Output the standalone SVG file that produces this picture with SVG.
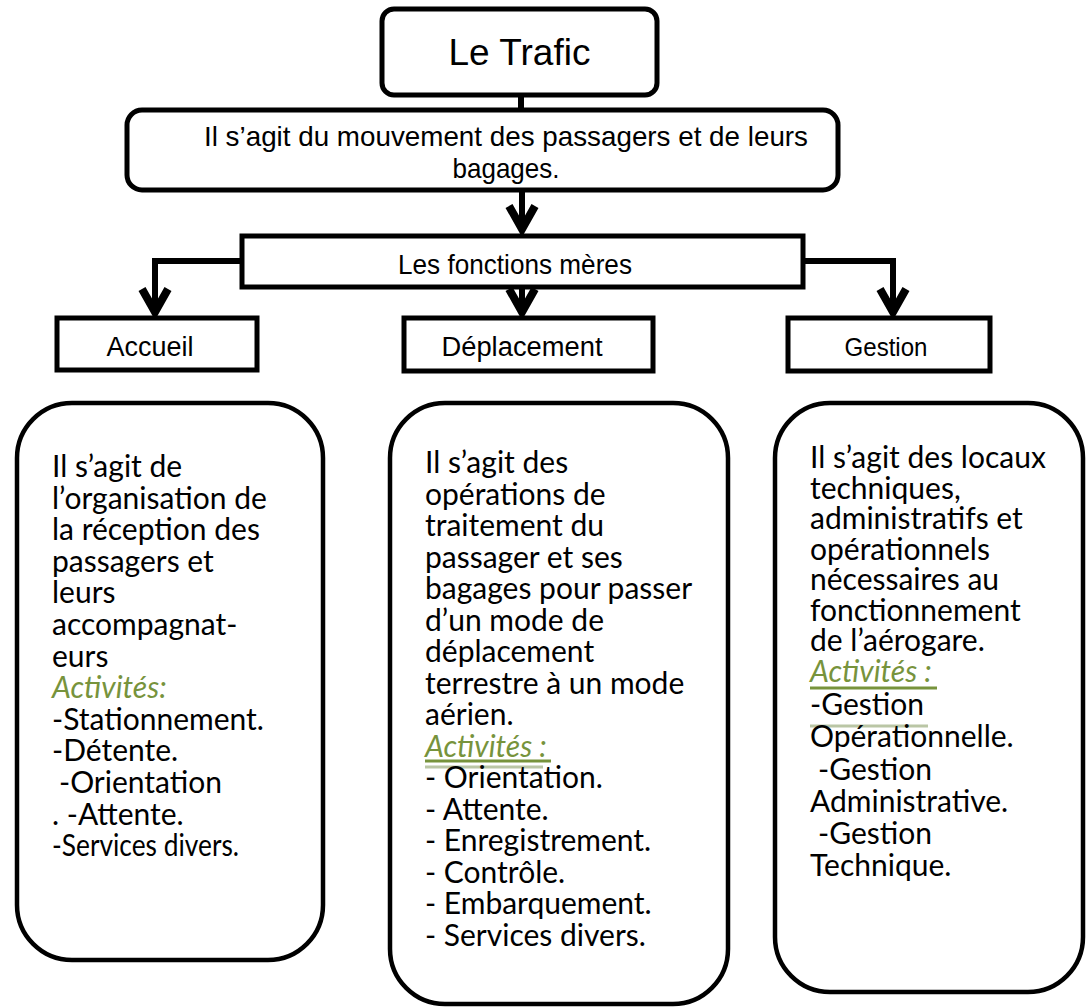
<svg xmlns="http://www.w3.org/2000/svg" width="1086" height="1008" viewBox="0 0 1086 1008">
<style>
.box{fill:#fff;stroke:#000;stroke-width:5}
.big{fill:#fff;stroke:#000;stroke-width:4.5}
.lbl{font-family:"Liberation Sans",Arial,sans-serif;fill:#000;text-anchor:middle}
.body{font-family:Lato,"Open Sans",sans-serif;font-size:30px;fill:#000}
.act{font-style:italic;fill:#77933C}
.con{fill:none;stroke:#000;stroke-width:6;stroke-linejoin:miter}
.ul{stroke:#77933C;stroke-width:3}
.ul2{stroke:#a9b98f;stroke-width:3;opacity:0.8}
</style>
<defs>
<marker id="arr" markerUnits="userSpaceOnUse" markerWidth="40" markerHeight="40" viewBox="-34 -20 40 40" refX="0" refY="0" orient="auto" overflow="visible">
<path d="M -26 -13 L -3 0 L -26 13" fill="none" stroke="#000" stroke-width="8" stroke-linejoin="miter" stroke-miterlimit="10"/>
</marker>
</defs>
<rect width="1086" height="1008" fill="#fff"/>
<g id="connectors">
<path class="con" d="M521 95 V110"/>
<path class="con" d="M522 190 V232" marker-end="url(#arr)"/>
<path class="con" d="M242 261 H155 V315" marker-end="url(#arr)"/>
<path class="con" d="M803 261 H893 V315" marker-end="url(#arr)"/>
<path class="con" d="M522 287 V315" marker-end="url(#arr)"/>
</g>
<g id="node-trafic">
<rect class="box" x="382" y="9" width="275" height="86" rx="12"/>
<text class="lbl" x="519.5" y="65" font-size="37">Le Trafic</text>
</g>
<g id="node-mouvement">
<rect class="box" x="127" y="110" width="711" height="80" rx="15"/>
<text class="lbl" x="506" y="146" font-size="28" textLength="604" lengthAdjust="spacingAndGlyphs">Il s’agit du mouvement des passagers et de leurs</text>
<text class="lbl" x="506" y="178" font-size="28" textLength="107" lengthAdjust="spacingAndGlyphs">bagages.</text>
</g>
<g id="node-fonctions">
<rect class="box" x="242" y="236" width="561" height="51"/>
<text class="lbl" x="515" y="274" font-size="28" textLength="234" lengthAdjust="spacingAndGlyphs">Les fonctions mères</text>
</g>
<g id="node-accueil">
<rect class="box" x="57" y="318" width="200" height="52"/>
<text class="lbl" x="150" y="356" font-size="27">Accueil</text>
</g>
<g id="node-deplacement">
<rect class="box" x="404" y="318" width="249" height="53"/>
<text class="lbl" x="522" y="356" font-size="27" textLength="161" lengthAdjust="spacingAndGlyphs">Déplacement</text>
</g>
<g id="node-gestion">
<rect class="box" x="788" y="318" width="202" height="53"/>
<text class="lbl" x="886" y="356" font-size="26" textLength="83" lengthAdjust="spacingAndGlyphs">Gestion</text>
</g>
<g id="node-accueil-desc">
<rect class="big" x="17" y="403" width="306" height="557" rx="55"/>
<text class="body" x="52" y="477">Il s’agit de</text>
<text class="body" x="52" y="508.6">l’organisation de</text>
<text class="body" x="52" y="540.2">la réception des</text>
<text class="body" x="52" y="571.8">passagers et</text>
<text class="body" x="52" y="603.4">leurs</text>
<text class="body" x="52" y="635">accompagnat-</text>
<text class="body" x="52" y="666.6">eurs</text>
<text class="body act" x="52" y="698.2">Activités:</text>
<text class="body" x="52" y="729.8">-Stationnement.</text>
<text class="body" x="52" y="761.4">-Détente.</text>
<text class="body" x="52" y="793"> <tspan x="59">-Orientation</tspan></text>
<text class="body" x="52" y="824.6">. -Attente.</text>
<text class="body" x="52" y="856.2" textLength="187" lengthAdjust="spacingAndGlyphs">-Services divers.</text>
</g>
<g id="node-deplacement-desc">
<rect class="big" x="390" y="403" width="338" height="601" rx="55"/>
<text class="body" x="425" y="473">Il s’agit des</text>
<text class="body" x="425" y="504.5">opérations de</text>
<text class="body" x="425" y="536">traitement du</text>
<text class="body" x="425" y="567.5">passager et ses</text>
<text class="body" x="425" y="599">bagages pour passer</text>
<text class="body" x="425" y="630.5">d’un mode de</text>
<text class="body" x="425" y="662">déplacement</text>
<text class="body" x="425" y="693.5">terrestre à un mode</text>
<text class="body" x="425" y="725">aérien.</text>
<text class="body act" x="425" y="756.5">Activités :</text>
<line class="ul" x1="425" y1="761" x2="551" y2="761"/>
<line class="ul2" x1="425" y1="767" x2="543" y2="767"/>
<text class="body" x="425" y="788">- Orientation.</text>
<text class="body" x="425" y="819.5">- Attente.</text>
<text class="body" x="425" y="851">- Enregistrement.</text>
<text class="body" x="425" y="882.5">- Contrôle.</text>
<text class="body" x="425" y="914">- Embarquement.</text>
<text class="body" x="425" y="945.5">- Services divers.</text>
</g>
<g id="node-gestion-desc">
<rect class="big" x="775" y="403" width="308" height="589" rx="55"/>
<text class="body" x="810" y="468">Il s’agit des locaux</text>
<text class="body" x="810" y="498.5">techniques,</text>
<text class="body" x="810" y="529">administratifs et</text>
<text class="body" x="810" y="559.5">opérationnels</text>
<text class="body" x="810" y="590">nécessaires au</text>
<text class="body" x="810" y="620.5">fonctionnement</text>
<text class="body" x="810" y="651">de l’aérogare.</text>
<text class="body act" x="810" y="681.5">Activités :</text>
<line class="ul" x1="810" y1="688" x2="937" y2="688"/>
<text class="body" x="810" y="715">-Gestion</text>
<line class="ul2" x1="810" y1="726" x2="928" y2="726"/>
<text class="body" x="810" y="747">Opérationnelle.</text>
<text class="body" x="810" y="779.5"> <tspan x="818">-Gestion</tspan></text>
<text class="body" x="810" y="811.5">Administrative.</text>
<text class="body" x="810" y="844"> <tspan x="818">-Gestion</tspan></text>
<text class="body" x="810" y="876">Technique.</text>
</g>
</svg>
